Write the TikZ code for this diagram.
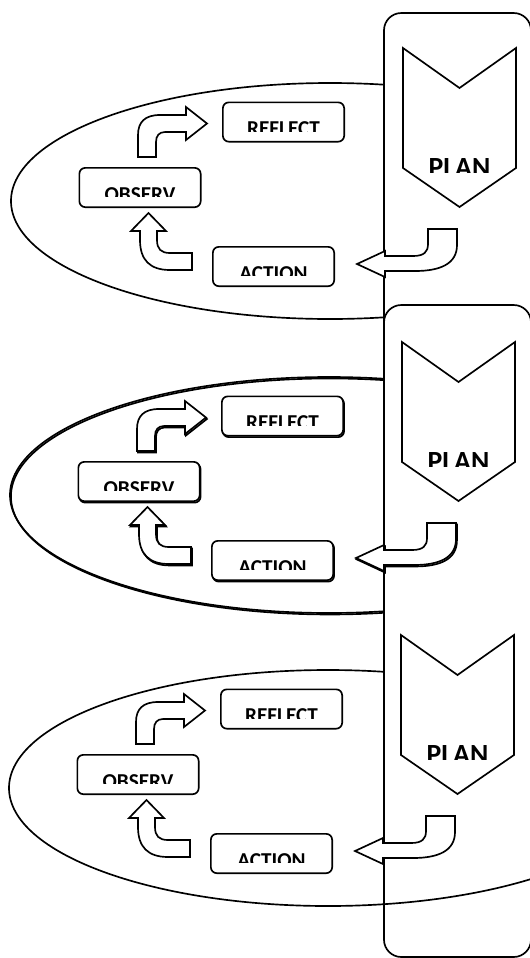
\documentclass[tikz,border=0pt]{standalone}
\usepackage{fontspec}
\setsansfont{Carlito}
\tikzset{
  every picture/.style={font=\sffamily\bfseries, line width=1.25pt},
  stage/.style={draw, fill=white, rounded corners=4.5pt, minimum width=91pt, minimum height=29.5pt, inner sep=0pt,
    path picture={
      \clip ([yshift=2pt]path picture bounding box.north west) rectangle ([yshift=8pt]path picture bounding box.south east);
      \node[anchor=base, inner sep=0pt, font=\sffamily\bfseries\fontsize{15.9}{18}\selectfont]
        at ([yshift=-10.4pt]path picture bounding box.center) {#1};
    }},
  plan/.style={draw, fill=white, line join=miter},
  planlabel/.style={anchor=base, inner sep=0pt, font=\sffamily\bfseries\fontsize{20.8}{24}\selectfont},
  column/.style={draw, fill=white, rounded corners=13pt},
  bent/.style={draw, fill=white, line join=miter},
  cyclering/.style={draw},
  shadowed/.style={preaction={draw, transform canvas={xshift=0.7pt, yshift=-1.1pt}}},
}

\begin{document}
\begin{tikzpicture}[x=0.75pt, y=-0.75pt]
  \useasboundingbox (0,0) rectangle (530,958);
  \newcommand{\cyclepanel}[3]{%
    \begin{scope}[shift={#2}]
      % plan chevron
      \draw[plan] (403,48) -- (459.5,88) -- (516,48) -- (516,168) -- (459.5,207) -- (403,168) -- cycle;
      \begin{scope}
        \clip (403,48) rectangle (516,172);
        \node[planlabel] (plan#1) at (459.5,176) {PLAN};
      \end{scope}
      % plan -> action
      \draw[bent, #3] (428,229) -- (457,229) -- (457,245) .. controls (457,264) and (440,271) .. (415,271)
        -- (385,271) -- (385,277) -- (357,264) -- (385,251) -- (385,256) -- (413,256)
        .. controls (424,256) and (428,252) .. (428,244) -- cycle;
      % action -> observ
      \draw[bent, #3] (192,253) -- (170,253) .. controls (161,253) and (157,249) .. (157,240) -- (157,231)
        -- (166,231) -- (148.5,213) -- (131,231) -- (140,231) -- (140,240)
        .. controls (140,260) and (150,270) .. (170,270) -- (192,270) -- cycle;
      % observ -> reflect
      \draw[bent, #3] (138,157) -- (138,135) .. controls (138,122) and (145,115) .. (160,115) -- (186,115)
        -- (186,107) -- (207,123.5) -- (186,140) -- (186,132) -- (165,132)
        .. controls (159,132) and (156,136) .. (156,142) -- (156,157) -- cycle;
      % stages
      \node[stage=REFLECT, #3] (reflect#1) at (283.5,122) {};
      \node[stage=OBSERV, #3] (observ#1) at (140,187.5) {};
      \node[stage=ACTION, #3] (action#1) at (273.5,266.5) {};
    \end{scope}}

  % the three cycles
  \draw[cyclering] (330,201) ellipse [x radius=319, y radius=118];
  \draw[cyclering, shadowed] (329,495) ellipse [x radius=319, y radius=118];
  \draw[cyclering] (328,788) ellipse [x radius=319, y radius=118];

  % plan columns
  \draw[column] (384,13) rectangle (531,340);
  \draw[column] (384,305) rectangle (531,957);
  \begin{scope}
    \clip (384,800) rectangle (540,958);
    \draw[cyclering] (328,788) ellipse [x radius=319, y radius=118];
  \end{scope}

  \cyclepanel{1}{(0,0)}{}
  \cyclepanel{2}{(-1,294)}{shadowed}
  \cyclepanel{3}{(-2,587)}{}
\end{tikzpicture}
\end{document}
